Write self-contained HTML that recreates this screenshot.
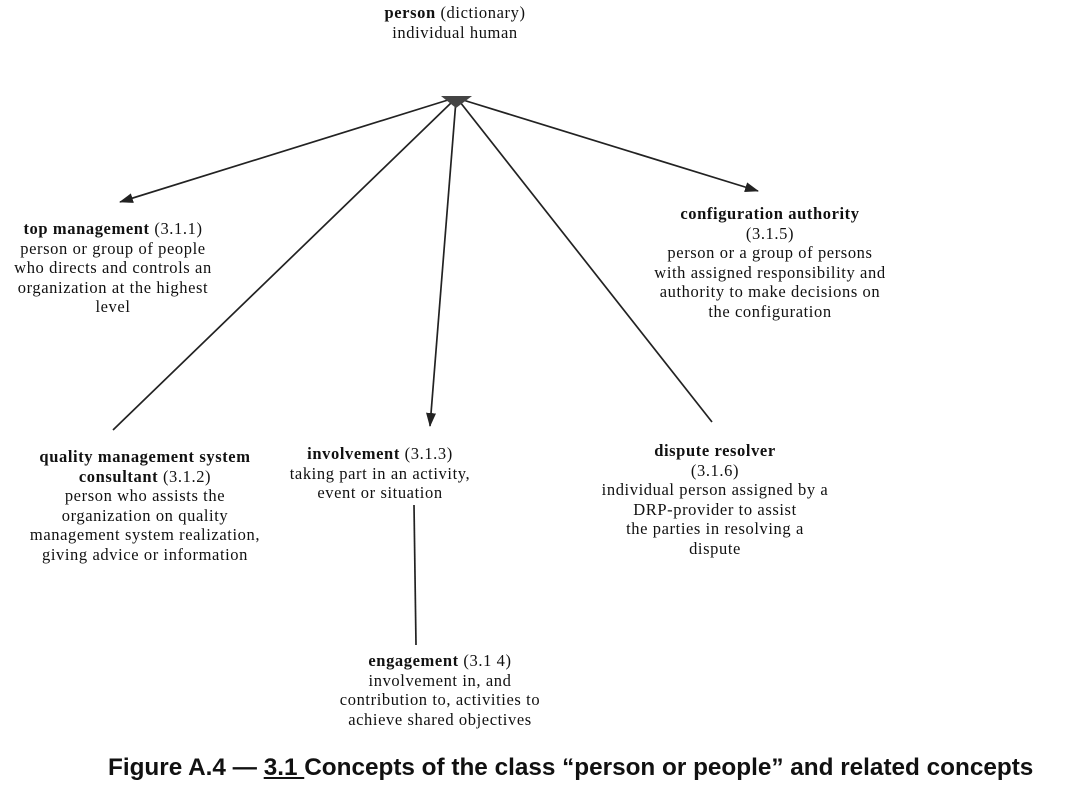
<!DOCTYPE html>
<html><head><meta charset="utf-8"><style>
html,body{margin:0;padding:0;background:#fff;}
body{width:1074px;height:810px;position:relative;overflow:hidden;font-family:"Liberation Serif",serif;color:#111;}
.t{position:absolute;text-align:center;font-size:16.5px;line-height:19.5px;letter-spacing:0.6px;white-space:nowrap;}
.cap{position:absolute;left:108px;top:754px;font-family:"Liberation Sans",sans-serif;font-weight:bold;font-size:24.3px;color:#111;white-space:nowrap;}
</style></head><body>
<svg width="1074" height="810" style="position:absolute;left:0;top:0">
<defs>
<marker id="a" markerWidth="14" markerHeight="10" refX="13" refY="5" orient="auto" markerUnits="userSpaceOnUse">
<path d="M0,0 L14,5 L0,10 z" fill="#222"/></marker>
</defs>
<g stroke="#222" stroke-width="1.7" fill="none">
<line x1="448" y1="100" x2="120" y2="202" marker-end="url(#a)"/>
<line x1="463" y1="100" x2="758" y2="191" marker-end="url(#a)"/>
<line x1="456" y1="100" x2="430" y2="426" marker-end="url(#a)"/>
<line x1="452" y1="102" x2="113" y2="430"/>
<line x1="460" y1="102" x2="712" y2="422"/>
<line x1="414" y1="505" x2="416" y2="645"/>
</g>
<path d="M441,96 L472,96 L456,108 z" fill="#444"/>
</svg>
<div class="t" style="left:340px;top:3px;width:230px"><b>person</b> (dictionary)<br>individual human</div>
<div class="t" style="left:0px;top:219px;width:226px"><b>top management</b> (3.1.1)<br>person or group of people<br>who directs and controls an<br>organization at the highest<br>level</div>
<div class="t" style="left:640px;top:204px;width:260px"><b>configuration authority</b><br>(3.1.5)<br>person or a group of persons<br>with assigned responsibility and<br>authority to make decisions on<br>the configuration</div>
<div class="t" style="left:10px;top:447px;width:270px"><b>quality management system<br>consultant</b> (3.1.2)<br>person who assists the<br>organization on quality<br>management system realization,<br>giving advice or information</div>
<div class="t" style="left:280px;top:444px;width:200px"><b>involvement</b> (3.1.3)<br>taking part in an activity,<br>event or situation</div>
<div class="t" style="left:580px;top:441px;width:270px"><b>dispute resolver</b><br>(3.1.6)<br>individual person assigned by a<br>DRP-provider to assist<br>the parties in resolving a<br>dispute</div>
<div class="t" style="left:330px;top:651px;width:220px"><b>engagement</b> (3.1 4)<br>involvement in, and<br>contribution to, activities to<br>achieve shared objectives</div>
<div class="cap">Figure A.4 — <u>3.1 </u>Concepts of the class “person or people” and related concepts</div>
</body></html>
